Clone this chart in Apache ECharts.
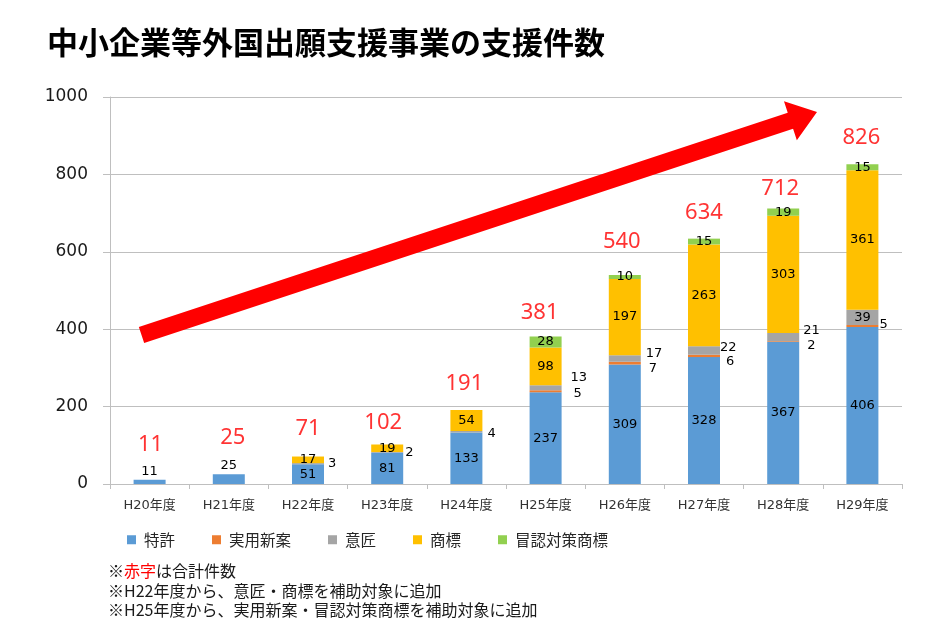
<!DOCTYPE html>
<html>
<head>
<meta charset="utf-8">
<title>中小企業等外国出願支援事業の支援件数</title>
<script src="https://cdn.jsdelivr.net/npm/echarts@6/dist/echarts.min.js"></script>
<style>
  html, body { margin: 0; padding: 0; background: #fff; }
  #chart { width: 950px; height: 640px; }
</style>
</head>
<body>
<div id="chart"></div>
<script>
  // 年度
  const categories = ['H20年度', 'H21年度', 'H22年度', 'H23年度', 'H24年度',
    'H25年度', 'H26年度', 'H27年度', 'H28年度', 'H29年度'];

  // 各件数
  const tokkyo = [11, 25, 51, 81, 133, 237, 309, 328, 367, 406];   // 特許
  const jitsuyo = [0, 0, 0, 0, 0, 5, 7, 6, 2, 5];                   // 実用新案
  const isho = [0, 0, 3, 2, 4, 13, 17, 22, 21, 39];                 // 意匠
  const shohyo = [0, 0, 17, 19, 54, 98, 197, 263, 303, 361];        // 商標
  const bonin = [0, 0, 0, 0, 0, 28, 10, 15, 19, 15];                // 冒認対策商標

  // y軸目盛
  const yMin = 0, yMax = 1000, yStep = 200;

  // 凡例・注記
  const seriesNames = ['特許', '実用新案', '意匠', '商標', '冒認対策商標'];
  const notes = ['※{r|赤字}は合計件数',
    '※H22年度から、意匠・商標を補助対象に追加',
    '※H25年度から、実用新案・冒認対策商標を補助対象に追加'];

  // 合計（赤字）
  const totals = categories.map((c, i) => tokkyo[i] + jitsuyo[i] + isho[i] + shohyo[i] + bonin[i]);

  // ラベル位置の微調整（見た目のみ）
  const totalLabelShift = [[1, -35], [4, -37], [0, -28], [-4, -22], [-2, -26],
    [-6, -24], [-3, -33], [0, -26], [-3, -20], [-1, -27]];
  const ishoLabelShift = [null, null, [4, 0], [2, 0], [5, 2], [9, -10], [5, -5], [0, -3], [4, -7], 'inside'];
  const jitsuyoLabelShift = [null, null, null, null, null, [12, 2], [8, 6], [6, 6], [8, 4], [1, -1]];

  const NUM_FONT = '"DejaVu Sans", "Noto Sans CJK JP", sans-serif';
  const JP_FONT = '"Noto Sans CJK JP", sans-serif';
  const colors = ['#5B9BD5', '#ED7D31', '#A5A5A5', '#FFC000', '#92D050'];

  const segLabel = {
    show: true,
    position: 'inside',
    color: '#000',
    fontSize: 13,
    fontFamily: NUM_FONT,
    formatter: (p) => (p.value ? p.value : '')
  };

  // 小さい値は棒の右側に表示
  function sideData(values, shifts) {
    return values.map((v, i) => {
      const s = shifts[i];
      if (s === 'inside' || !s) return v;
      return {
        value: v,
        label: { position: 'right', distance: s[0], offset: [0, s[1]] }
      };
    });
  }

  // 矢印
  function arrowPoints(from, to, shaftHalf, headHalf, headLen) {
    const dx = to[0] - from[0], dy = to[1] - from[1];
    const len = Math.sqrt(dx * dx + dy * dy);
    const ux = dx / len, uy = dy / len;
    const nx = -uy, ny = ux;
    const bx = to[0] - ux * headLen, by = to[1] - uy * headLen;
    return [
      [from[0] + nx * shaftHalf, from[1] + ny * shaftHalf],
      [bx + nx * shaftHalf, by + ny * shaftHalf],
      [bx + nx * headHalf, by + ny * headHalf],
      to,
      [bx - nx * headHalf, by - ny * headHalf],
      [bx - nx * shaftHalf, by - ny * shaftHalf],
      [from[0] - nx * shaftHalf, from[1] - ny * shaftHalf]
    ];
  }

  const chart = echarts.init(document.getElementById('chart'));

  const option = {
    animation: false,
    color: colors,
    title: {
      text: '中小企業等外国出願支援事業の支援件数',
      left: 42,
      top: 22,
      textStyle: {
        fontFamily: JP_FONT,
        fontSize: 31,
        fontWeight: 'bold',
        color: '#000'
      }
    },
    legend: {
      data: seriesNames,
      left: 122,
      top: 527,
      icon: 'rect',
      itemWidth: 9,
      itemHeight: 9,
      itemGap: 37,
      textStyle: {
        fontFamily: JP_FONT,
        fontSize: 15.5,
        color: '#262626',
        padding: [0, 0, 0, 3]
      }
    },
    grid: {
      left: 110,
      right: 48,
      top: 97,
      bottom: 156
    },
    xAxis: {
      type: 'category',
      data: categories,
      axisLine: { lineStyle: { color: '#BFBFBF' } },
      axisTick: { show: true, length: 5, lineStyle: { color: '#BFBFBF' } },
      axisLabel: {
        margin: 15,
        fontFamily: NUM_FONT,
        fontSize: 13,
        color: '#333'
      }
    },
    yAxis: {
      type: 'value',
      min: yMin,
      max: yMax,
      interval: yStep,
      axisLine: { show: true, lineStyle: { color: '#BFBFBF' } },
      axisTick: { show: true, length: 7, lineStyle: { color: '#BFBFBF' } },
      splitLine: { lineStyle: { color: '#BFBFBF' } },
      axisLabel: {
        margin: 22,
        fontFamily: NUM_FONT,
        fontSize: 17,
        color: '#1a1a1a',
        formatter: (v) => String(v)
      }
    },
    series: [
      {
        name: '特許', type: 'bar', stack: 'total', barWidth: 32,
        label: segLabel,
        data: tokkyo.map((v, i) => (i < 2 ? { value: v, label: { position: 'top', distance: 2 } } : v))
      },
      {
        name: '実用新案', type: 'bar', stack: 'total', barWidth: 32,
        label: segLabel,
        data: sideData(jitsuyo, jitsuyoLabelShift)
      },
      {
        name: '意匠', type: 'bar', stack: 'total', barWidth: 32,
        label: segLabel,
        data: sideData(isho, ishoLabelShift)
      },
      {
        name: '商標', type: 'bar', stack: 'total', barWidth: 32,
        label: segLabel,
        data: shohyo
      },
      {
        name: '冒認対策商標', type: 'bar', stack: 'total', barWidth: 32,
        label: segLabel,
        data: bonin
      },
      {
        // 合計件数（赤字）
        name: '合計', type: 'scatter', symbolSize: 0, silent: true, z: 5,
        itemStyle: { color: 'transparent' },
        label: {
          show: true,
          position: 'inside',
          color: '#FF0000',
          fontSize: 22,
          fontFamily: '"Noto Sans", sans-serif'
        },
        data: totals.map((v, i) => ({ value: v, label: { offset: totalLabelShift[i] } }))
      }
    ],
    graphic: [
      {
        type: 'polygon',
        z: 1,
        silent: true,
        shape: { points: arrowPoints([141.5, 335], [817, 112], 8.5, 20.5, 28) },
        style: { fill: '#FF0000' }
      }
    ].concat(notes.map((t, i) => ({
      type: 'text',
      left: 108,
      top: 563 + i * 19.5,
      silent: true,
      style: {
        text: t,
        font: '16px ' + JP_FONT,
        fill: '#1a1a1a',
        rich: {
          r: { fill: '#FF0000', font: '16px ' + JP_FONT }
        }
      }
    })))
  };

  chart.setOption(option);
</script>
</body>
</html>
